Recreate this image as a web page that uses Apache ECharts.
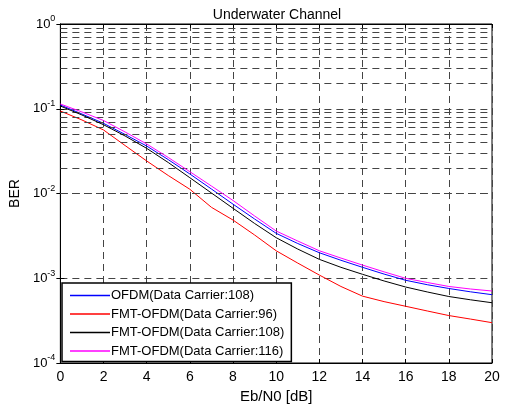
<!DOCTYPE html>
<html>
<head>
<meta charset="utf-8">
<script src="https://cdn.jsdelivr.net/npm/echarts@6/dist/echarts.min.js"></script>
<style>html,body{margin:0;padding:0;background:#fff}#c{width:509px;height:409px}</style>
</head>
<body>
<div id="c"></div>
<script>
const ebn0 = [0,1,2,3,4,5,6,7,8,9,10,11,12,13,14,15,16,17,18,19,20];
const ofdm108 = [0.1107,0.0867,0.0673,0.0497,0.0363,0.0251,0.0170,0.0113,0.00748,0.0050,0.00339,0.00257,0.00200,0.00163,0.001346,0.00112,0.000946,0.000839,0.000757,0.000692,0.000640];
const fmt96 = [0.0940,0.0737,0.0562,0.0368,0.0242,0.0163,0.01122,0.00687,0.00486,0.00324,0.00211,0.00151,0.00109,0.000800,0.000615,0.000530,0.000467,0.000411,0.000363,0.000330,0.000299];
const fmt108 = [0.1077,0.0844,0.0648,0.0477,0.0341,0.0232,0.01536,0.01014,0.00669,0.00443,0.00301,0.00221,0.00167,0.001346,0.001113,0.000929,0.000788,0.000689,0.000609,0.000557,0.000514];
const fmt116 = [0.1138,0.0916,0.0727,0.0532,0.0384,0.0266,0.01808,0.01225,0.00827,0.00543,0.00361,0.00275,0.00211,0.00173,0.00143,0.00119,0.000998,0.000891,0.000800,0.000747,0.000707];
const seriesNames = ['OFDM(Data Carrier:108)','FMT-OFDM(Data Carrier:96)','FMT-OFDM(Data Carrier:108)','FMT-OFDM(Data Carrier:116)'];
const seriesColors = ['#0000ff','#ff0000','#000000','#ff00ff'];
const xTickValues = [0,2,4,6,8,10,12,14,16,18,20];
const yDecades = [-4,-3,-2,-1,0];
const minorMults = [2,3,4,5,6,7,8,9];

const gridColor = '#444';
const dash = [7,5];
const minorLines = [];
yDecades.slice(0,-1).forEach(d => minorMults.forEach(k => minorLines.push({yAxis: k*Math.pow(10,d)})));

function pairs(arr){ return ebn0.map((x,i)=>[x,arr[i]]); }
const dataSets = [ofdm108, fmt96, fmt108, fmt116];

const series = dataSets.map((arr,i)=>({
  name: seriesNames[i], type:'line', data: pairs(arr), showSymbol:false, symbol:'none',
  lineStyle:{color:seriesColors[i], width:1}, itemStyle:{color:seriesColors[i]},
  z: 3+i, animation:false, smooth:false
}));
series.unshift({
  name:'_grid', type:'line', data:[], silent:true, animation:false,
  markLine:{silent:true, symbol:'none', animation:false, label:{show:false},
    lineStyle:{color:gridColor, type:dash, width:1}, data: minorLines}
});

const font = 'Liberation Sans, Arial, Helvetica, sans-serif';
const chart = echarts.init(document.getElementById('c'), null, {renderer:'canvas'});
chart.setOption({
  backgroundColor:'#fff',
  animation:false,
  textStyle:{fontFamily:font},
  title:{text:'Underwater Channel', left:272, top:3, textAlign:'center',
    textStyle:{fontSize:14, fontWeight:'normal', color:'#000', fontFamily:font}},
  grid:{left:60, right:17, top:24, bottom:46, show:true, borderColor:'#000', borderWidth:1, backgroundColor:'#fff'},
  legend:{
    data: seriesNames, orient:'vertical', left:62, top:283, icon:'rect', itemWidth:40, itemHeight:1.5,
    itemGap:5.5, padding:[6,7,4,8], backgroundColor:'#fff', borderColor:'#000', borderWidth:1.5,
    textStyle:{fontSize:13, color:'#000', fontFamily:font, padding:[0,0,0,-4]}, selectedMode:false
  },
  xAxis:[{
    type:'value', min:0, max:20, interval:2, position:'bottom',
    name:'Eb/N0 [dB]', nameLocation:'middle', nameGap:22,
    nameTextStyle:{fontSize:15, color:'#000', fontFamily:font},
    axisLine:{show:true, lineStyle:{color:'#000', width:1}},
    axisTick:{show:true, inside:true, length:4, lineStyle:{color:'#000'}},
    axisLabel:{fontSize:14, color:'#000', margin:7, fontFamily:font},
    splitLine:{show:true, lineStyle:{color:gridColor, type:dash, width:1}}
  },{
    type:'value', min:0, max:20, interval:2, position:'top',
    axisLine:{show:true, lineStyle:{color:'#000'}},
    axisTick:{show:true, inside:true, length:4, lineStyle:{color:'#000'}},
    axisLabel:{show:false}, splitLine:{show:false}
  }],
  yAxis:[{
    type:'log', logBase:10, min:1e-4, max:1, position:'left',
    name:'BER', nameLocation:'middle', nameGap:29, nameRotate:90,
    nameTextStyle:{fontSize:14, color:'#000', fontFamily:font},
    axisLine:{show:true, lineStyle:{color:'#000', width:1}},
    axisTick:{show:true, inside:true, length:4, lineStyle:{color:'#000'}},
    axisLabel:{color:'#000', margin:5, fontFamily:font,
      formatter: v => '{b|10}{s|' + Math.round(Math.log10(v)) + '}',
      rich:{b:{fontSize:13, color:'#000', fontFamily:font},
            s:{fontSize:9, color:'#000', fontFamily:font, padding:[0,0,10,0]}}},
    splitLine:{show:true, lineStyle:{color:gridColor, type:dash, width:1}}
  },{
    type:'log', logBase:10, min:1e-4, max:1, position:'right',
    axisLine:{show:true, lineStyle:{color:'#000'}},
    axisTick:{show:true, inside:true, length:4, lineStyle:{color:'#000'}},
    axisLabel:{show:false}, splitLine:{show:false}
  }],
  series: series
});
</script>
</body>
</html>
